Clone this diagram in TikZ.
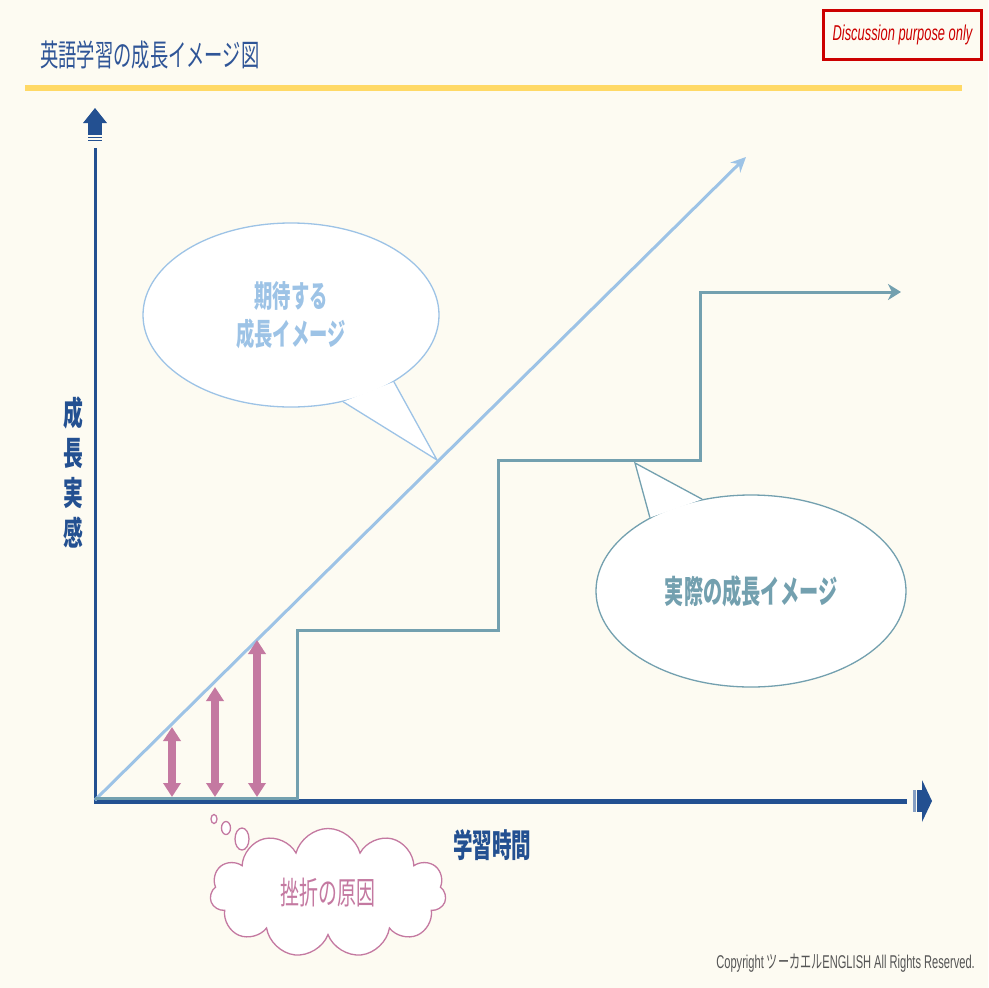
\documentclass[tikz,border=0pt]{standalone}
\usepackage{fontspec}
\usetikzlibrary{calc, shapes, arrows.meta}
\newfontfamily\jp{Noto Sans CJK JP}[FakeStretch=0.6]
\newfontfamily\lat{Liberation Sans}[FakeStretch=0.6]
\definecolor{paper}{RGB}{253,251,242}
\definecolor{axisblue}{RGB}{35,80,145}
\definecolor{titleblue}{RGB}{47,85,151}
\definecolor{hopeblue}{RGB}{157,195,230}
\definecolor{realteal}{RGB}{115,160,175}
\definecolor{failpink}{RGB}{196,121,161}
\definecolor{baryellow}{RGB}{255,217,102}
\definecolor{notered}{RGB}{204,0,0}
\definecolor{copygrey}{RGB}{85,85,85}

\begin{document}
\begin{tikzpicture}[x=1pt, y=-1pt]
\tikzset{BubbleStyle/.style = {ellipse, fill= white, line width= 1.3pt, inner sep= 0pt, align= center},
  PushStyle/.style = {failpink, line width= 8pt, {Triangle[length= 14pt, width= 17pt]}-{Triangle[length= 14pt, width= 17pt]}}
}
    \fill[paper] (0,0) rectangle (988,988);
    \useasboundingbox (0,0) rectangle (988,988);

    % Title and header line
    \node[anchor= west, inner sep= 0pt, text= titleblue, font= \jp\fontsize{30.5}{36}\selectfont] (title) at (40,55) {英語学習の成長イメージ図};
    \fill[baryellow] (25,85) rectangle (962,91);
    \node[draw= notered, line width= 3pt, minimum width= 158pt, minimum height= 49pt, text= notered, font= \lat\itshape\fontsize{21.5}{24}\selectfont] (note) at (902.5,35) {Discussion purpose only};

    % Draw axes
    \coordinate (origin) at (95,800);
    \coordinate (ytop) at (95,148);
    \coordinate (xend) at (907,801);
    \draw[axisblue, line width= 3pt] ($(origin)+(0,3)$) -- (ytop);
    \draw[axisblue, line width= 5pt] ($(origin)+(-1.5,1)$) -- (xend);
    \fill[axisblue] (83,123) -- (95,108) -- (107,123) -- cycle;
    \fill[axisblue] (88,122) rectangle (102,135);
    \foreach \yy in {136.5, 139.5} \fill[axisblue] (88,\yy) rectangle (102,\yy+1.5);
    \fill[axisblue] (922,780) -- (932,801) -- (922,822) -- cycle;
    \fill[axisblue] (916.5,790) rectangle (922.5,812);
    \fill[axisblue!55] (913,790) rectangle (916,812);

    % Expected growth and real growth
    \coordinate (hopeEnd) at (746,157);
    \draw[hopeblue, line width= 3pt, -{Stealth[length= 15pt, width= 14pt, inset= 5pt]}] (origin) -- (hopeEnd);
    \coordinate (s0) at (95,798);
    \coordinate (s1) at (297,630);
    \coordinate (s2) at (498,460);
    \coordinate (s3) at (700,292);
    \coordinate (realEnd) at (901,292);
    \draw[realteal, line width= 3pt, line join= miter, -{Stealth[length= 13pt, width= 16pt, inset= 4pt]}] (s0) -| (s1) -| (s2) -| (s3) -- (realEnd);

    % Speech bubbles
    \node[BubbleStyle, draw= hopeblue, minimum width= 296pt, minimum height= 184pt, text= hopeblue, font= \jp\bfseries\fontsize{30.5}{38}\selectfont] (hope) at (291,315) {期待する\\成長イメージ};
    \coordinate (hopeTip) at (437,460);
    \fill[white] (hope.-33) -- (hopeTip) -- (hope.-59) -- cycle;
    \draw[hopeblue, line width= 1.3pt, line join= miter] (hope.-33) -- (hopeTip) -- (hope.-59);

    \node[BubbleStyle, draw= realteal, minimum width= 310pt, minimum height= 192pt, text= realteal, font= \jp\bfseries\fontsize{32}{38}\selectfont] (real) at (751,591) {実際の成長イメージ};
    \coordinate (realTip) at (635,463);
    \fill[white] (real.118) -- (realTip) -- (real.144) -- cycle;
    \draw[realteal, line width= 1.3pt, line join= miter] (real.118) -- (realTip) -- (real.144);

    % Gap arrows
    \coordinate (g1b) at (172,797);
    \coordinate (g1t) at (172,727);
    \coordinate (g2b) at (215,797);
    \coordinate (g2t) at (215,687);
    \coordinate (g3b) at (257,797);
    \coordinate (g3t) at (257,640);
    \draw[PushStyle] (g1b) -- (g1t);
    \draw[PushStyle] (g2b) -- (g2t);
    \draw[PushStyle] (g3b) -- (g3t);

    % Thought cloud
    \draw[failpink, line width= 1.3pt, fill= white] (214,819) ellipse [x radius= 3, y radius= 4.5];
    \draw[failpink, line width= 1.3pt, fill= white] (226,828) ellipse [x radius= 4.5, y radius= 6.5];
    \draw[failpink, line width= 1.3pt, fill= white] (242,839) ellipse [x radius= 7, y radius= 11];
    \node[cloud, cloud puffs= 11, aspect= 1.8, draw= failpink, fill= white, line width= 1.3pt, minimum width= 236pt, minimum height= 129pt, text= failpink, font= \jp\fontsize{31.5}{38}\selectfont] (cloud) at (328,893) {挫折の原因};

    % Axis labels
    \node[text= axisblue, font= \jp\bfseries\fontsize{32.5}{38}\selectfont] (xlabel) at (492,845) {学習時間};
    \node[text= axisblue, align= center, font= \jp\bfseries\fontsize{33}{40}\selectfont] (ylabel) at (73,472) {成\\長\\実\\感};

    % Copyright
    \node[anchor= east, inner sep= 0pt, text= copygrey, font= \lat\fontsize{18.5}{20}\selectfont] (copy) at (975,963) {Copyright {\jp ツーカエル}ENGLISH All Rights Reserved.};
\end{tikzpicture}
\end{document}
